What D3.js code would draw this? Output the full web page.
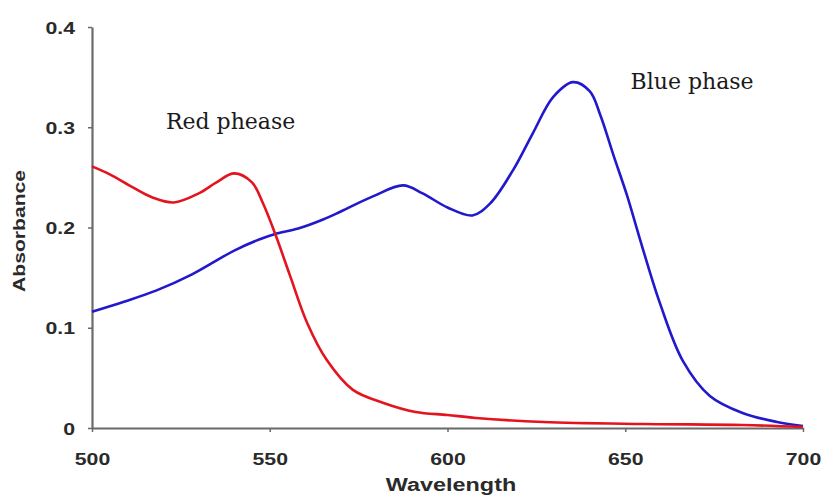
<!DOCTYPE html>
<html>
<head>
<meta charset="utf-8">
<script src="https://cdn.jsdelivr.net/npm/d3@7"></script>
<style>
  body { margin: 0; background: #fff; }
  .tick text { font-family: "Liberation Sans", Arial, sans-serif; font-weight: bold; fill: #2a2a2a; }
</style>
</head>
<body>
<div id="chart"></div>
<script>
// Data
var redWavelength = [500, 505, 511.5, 517, 523, 530, 535, 540, 545, 548, 551.5, 555.7, 560.5, 566, 573.4, 582, 591, 600, 608, 627, 655, 683, 700];
var redAbsorbance = [0.261, 0.253, 0.240, 0.230, 0.225, 0.234, 0.245, 0.254, 0.245, 0.225, 0.194, 0.152, 0.105, 0.068, 0.038, 0.025, 0.016, 0.013, 0.010, 0.006, 0.004, 0.003, 0.001];

var blueWavelength = [500, 509, 518, 528, 540, 547, 552, 558, 565, 570, 579, 587.5, 593, 600, 607, 612, 618.4, 624, 629.7, 635.3, 640, 643, 646.7, 650.5, 654, 659.8, 666.2, 673.8, 683, 692.7, 700];
var blueAbsorbance = [0.116, 0.126, 0.137, 0.153, 0.177, 0.188, 0.194, 0.199, 0.208, 0.216, 0.231, 0.242, 0.234, 0.220, 0.212, 0.224, 0.257, 0.294, 0.330, 0.345, 0.336, 0.312, 0.272, 0.232, 0.190, 0.124, 0.067, 0.032, 0.015, 0.006, 0.002];

var xTicks = [500, 550, 600, 650, 700];
var yTicks = [0, 0.1, 0.2, 0.3, 0.4];

var width = 822, height = 497;
var margin = { top: 27, right: 19, bottom: 69, left: 92 };

var svg = d3.select("#chart").append("svg")
    .attr("width", width)
    .attr("height", height);

var x = d3.scaleLinear().domain([500, 700]).range([margin.left, width - margin.right]);
var y = d3.scaleLinear().domain([0, 0.4]).range([height - margin.bottom, margin.top]);

// stretch text horizontally like the (widened) original
function widen(sel, k) {
    sel.each(function() {
        var len = this.getComputedTextLength();
        d3.select(this).attr("textLength", len * k).attr("lengthAdjust", "spacingAndGlyphs");
    });
}

// Axes
var xAxis = d3.axisBottom(x).tickValues(xTicks).tickFormat(d3.format("d")).tickSize(4).tickSizeOuter(0).tickPadding(21);
var yAxis = d3.axisLeft(y).tickValues(yTicks).tickFormat(function(d) { return d === 0 ? "0" : d3.format(".1f")(d); })
    .tickSize(4).tickSizeOuter(0).tickPadding(13);

var gx = svg.append("g")
    .attr("transform", "translate(0," + y(0) + ")")
    .call(xAxis);
var gy = svg.append("g")
    .attr("transform", "translate(" + x(500) + ",0)")
    .call(yAxis);

[gx, gy].forEach(function(g) {
    g.select(".domain").attr("stroke", "#6a6a6a").attr("stroke-width", 2.2);
    g.selectAll(".tick line").attr("stroke", "#6a6a6a").attr("stroke-width", 1.5);
    g.selectAll(".tick text").style("font-size", "17px");
});
gy.selectAll(".tick text").attr("dy", "0.36em");
widen(gx.selectAll(".tick text"), 1.25);
widen(gy.selectAll(".tick text"), 1.25);

// Axis titles
var xTitle = svg.append("text")
    .attr("x", 451)
    .attr("y", 491)
    .attr("text-anchor", "middle")
    .style("font-family", "Liberation Sans, Arial, sans-serif")
    .style("font-weight", "bold")
    .style("font-size", "18px")
    .attr("fill", "#2a2a2a")
    .text("Wavelength");
widen(xTitle, 1.3);

var yTitle = svg.append("text")
    .attr("transform", "translate(25," + 231 + ") rotate(-90)")
    .attr("text-anchor", "middle")
    .style("font-family", "Liberation Sans, Arial, sans-serif")
    .style("font-weight", "bold")
    .style("font-size", "16px")
    .attr("fill", "#2a2a2a")
    .text("Absorbance");
widen(yTitle, 1.32);

// Curves
var line = d3.line()
    .x(function(d) { return x(d[0]); })
    .y(function(d) { return y(d[1]); })
    .curve(d3.curveCatmullRom.alpha(0.5));

var redData = d3.zip(redWavelength, redAbsorbance);
var blueData = d3.zip(blueWavelength, blueAbsorbance);

svg.append("path")
    .datum(blueData)
    .attr("fill", "none")
    .attr("stroke", "#2218cc")
    .attr("stroke-width", 2.6)
    .attr("d", line);

svg.append("path")
    .datum(redData)
    .attr("fill", "none")
    .attr("stroke", "#e3141e")
    .attr("stroke-width", 2.6)
    .attr("d", line);

// Annotations
svg.append("text")
    .attr("x", x(520.8))
    .attr("y", y(0.298))
    .style("font-family", "DejaVu Serif, serif")
    .style("font-size", "22px")
    .attr("fill", "#1a1a1a")
    .text("Red phease");

svg.append("text")
    .attr("x", x(651.5))
    .attr("y", y(0.338))
    .style("font-family", "DejaVu Serif, serif")
    .style("font-size", "22px")
    .attr("fill", "#1a1a1a")
    .text("Blue phase");
</script>
</body>
</html>
